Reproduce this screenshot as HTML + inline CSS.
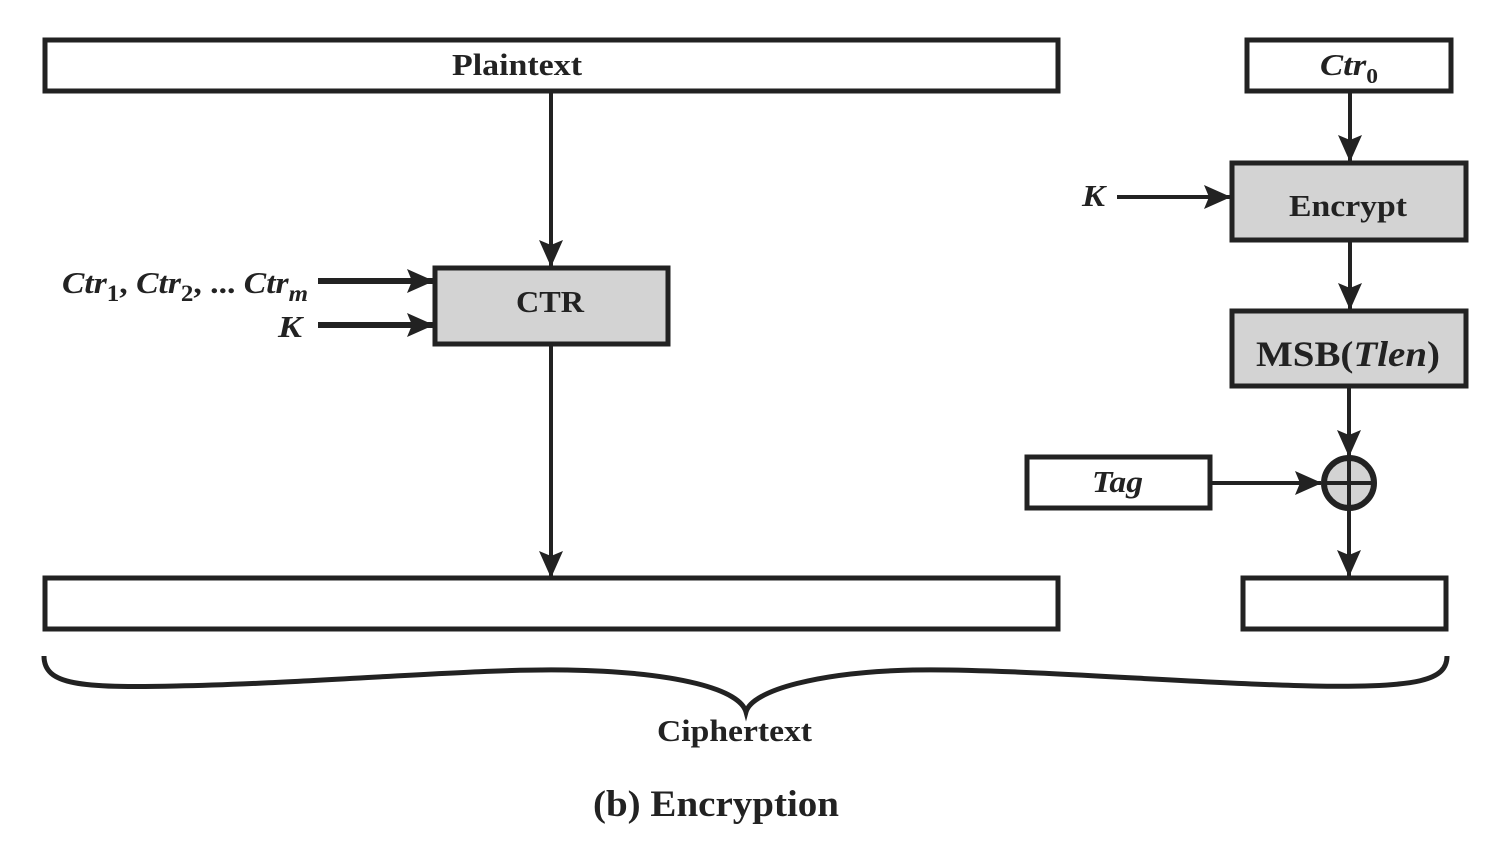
<!DOCTYPE html>
<html><head><meta charset="utf-8"><style>
html,body{margin:0;padding:0;background:#fff;}
svg{display:block;}
text{font-family:"Liberation Serif",serif;font-weight:bold;fill:#222;}
</style></head><body>
<svg width="1510" height="846" viewBox="0 0 1510 846" xmlns="http://www.w3.org/2000/svg">
<defs>
<marker id="a" markerWidth="28" markerHeight="26" refX="26" refY="13" orient="auto" markerUnits="userSpaceOnUse">
<path d="M0,1 L27,13 L0,25 L5,13 Z" fill="#222"/>
</marker>
</defs>
<g stroke="#222" stroke-width="5" fill="#fff">
<rect x="45" y="40" width="1013" height="51"/>
<rect x="1247" y="40" width="204" height="51"/>
<rect x="1232" y="163" width="234" height="77" fill="#d3d3d3"/>
<rect x="1232" y="311" width="234" height="75" fill="#d3d3d3"/>
<rect x="435" y="268" width="233" height="76" fill="#d3d3d3"/>
<rect x="1027" y="457" width="183" height="51"/>
<rect x="45" y="578" width="1013" height="51"/>
<rect x="1243" y="578" width="203" height="51"/>
<circle cx="1349" cy="483" r="25" fill="#d3d3d3" stroke-width="6"/>
</g>
<g stroke="#222" stroke-width="4" fill="none">
<line x1="1324" y1="483" x2="1374" y2="483"/>
<line x1="1349" y1="458" x2="1349" y2="508"/>
<line x1="551" y1="92" x2="551" y2="266" marker-end="url(#a)"/>
<line x1="551" y1="346" x2="551" y2="577" marker-end="url(#a)"/>
<line x1="1350" y1="92" x2="1350" y2="161" marker-end="url(#a)"/>
<line x1="1117" y1="197" x2="1230" y2="197" marker-end="url(#a)"/>
<line x1="1350" y1="242" x2="1350" y2="309" marker-end="url(#a)"/>
<line x1="1349" y1="388" x2="1349" y2="456" marker-end="url(#a)"/>
<line x1="1212" y1="483" x2="1321" y2="483" marker-end="url(#a)"/>
<line x1="1349" y1="510" x2="1349" y2="576" marker-end="url(#a)"/>
<line x1="318" y1="281" x2="433" y2="281" stroke-width="6" marker-end="url(#a)"/>
<line x1="318" y1="325" x2="433" y2="325" stroke-width="6" marker-end="url(#a)"/>
</g>
<path d="M44,656 C44,685 80,688 176,686 C300,684 480,668 567,670 C680,672 740,690 746,712 C752,690 820,672 913,670 C1010,668 1200,684 1313,686 C1420,688 1447,680 1447,656" stroke="#222" stroke-width="5" fill="none"/>
<g font-size="31" lengthAdjust="spacingAndGlyphs">
<text x="452" y="75" font-size="31" textLength="130" lengthAdjust="spacingAndGlyphs">Plaintext</text>
<text x="1320" y="75" font-size="31" font-style="italic" textLength="58" lengthAdjust="spacingAndGlyphs">Ctr<tspan font-size="21" dy="8" font-style="normal">0</tspan></text>
<text x="1082" y="206" font-size="31" font-style="italic" textLength="23" lengthAdjust="spacingAndGlyphs">K</text>
<text x="1289" y="216" font-size="31" textLength="118" lengthAdjust="spacingAndGlyphs">Encrypt</text>
<text x="1256" y="366" font-size="36" textLength="184" lengthAdjust="spacingAndGlyphs">MSB(<tspan font-style="italic">Tlen</tspan>)</text>
<text x="516" y="312" font-size="31" textLength="68" lengthAdjust="spacingAndGlyphs">CTR</text>
<text x="1092" y="492" font-size="31" font-style="italic" textLength="51" lengthAdjust="spacingAndGlyphs">Tag</text>
<text x="62" y="293" font-size="31" font-style="italic" textLength="246" lengthAdjust="spacingAndGlyphs">Ctr<tspan font-size="23" dy="8" font-style="normal">1</tspan><tspan dy="-8" font-style="normal">, </tspan>Ctr<tspan font-size="23" dy="8" font-style="normal">2</tspan><tspan dy="-8" font-style="normal">, ... </tspan>Ctr<tspan font-size="23" dy="8">m</tspan></text>
<text x="278" y="337" font-size="31" font-style="italic" textLength="24" lengthAdjust="spacingAndGlyphs">K</text>
<text x="657" y="741" font-size="31" textLength="155" lengthAdjust="spacingAndGlyphs">Ciphertext</text>
<text x="593" y="816" font-size="37" textLength="246" lengthAdjust="spacingAndGlyphs">(b) Encryption</text>
</g>
</svg>
</body></html>
